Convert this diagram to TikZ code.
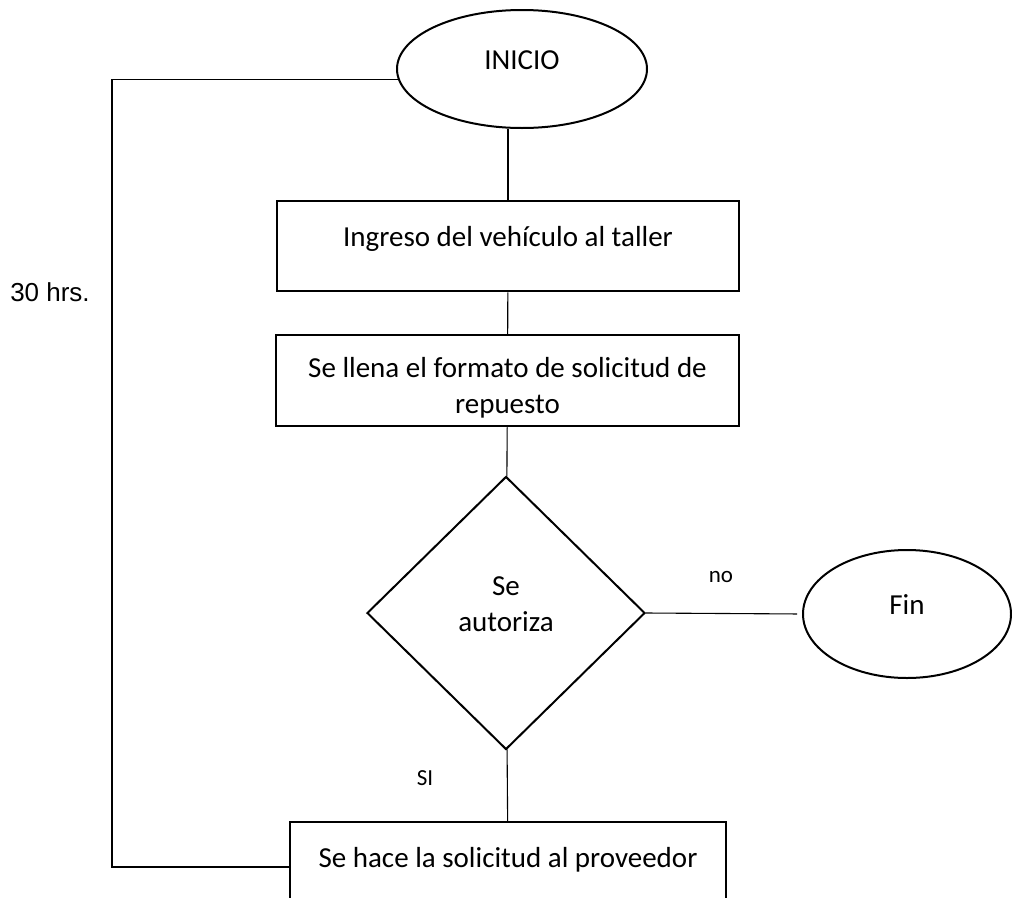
\documentclass[tikz,border=0pt]{standalone}
\usepackage{fontspec}
\setmainfont{Carlito}
\newfontfamily\arialfont{Liberation Sans}
\usetikzlibrary{shapes.geometric}
\definecolor{tinta}{HTML}{000000}

\begin{document}
\begin{tikzpicture}[x=1pt,y=-1pt,font=\fontsize{29}{36}\selectfont,
 paso/.style={draw=tinta,line width=2.5pt,rectangle,minimum width=#1,minimum height=90pt,inner sep=0pt,align=center},
 extremo/.style={draw=tinta,line width=2pt,ellipse,inner sep=0pt,text height=0pt,text depth=0pt},
 raso/.style={text height=0pt,text depth=0pt},
 linea/.style={draw=tinta,line width=1.1pt},
 etiq/.style={font=\fontsize{23}{27}\selectfont}]
 \useasboundingbox(0,0)rectangle(1012,897);
 \clip(0,0)rectangle(1012,897);
 \node[extremo,minimum width=250pt,minimum height=118pt](inicio)at(522,69){INICIO};
 \node[paso=462pt,raso](ingreso)at(508,246){Ingreso del vehículo al taller};
 \node[paso=463pt,minimum height=91pt,text height=66pt,text depth=0pt](formato)at(507.5,380.5){Se llena el formato de solicitud de\\repuesto};
 \node[draw=tinta,line width=2pt,diamond,minimum width=278pt,minimum height=273pt,inner sep=0pt,align=center,text depth=18pt](autoriza)at(506,613){Se\\autoriza};
 \node[extremo,minimum width=208pt,minimum height=128pt](fin)at(907,614){Fin};
 \node[paso=436pt,raso](solicitud)at(508,867){Se hace la solicitud al proveedor};
 \node[etiq](no)at(721,577){no};
 \node[etiq](si)at(425,778){SI};
 \node[font=\arialfont\fontsize{26}{30}\selectfont](horas)at(50,292){30 hrs.};
 \coordinate(lazo)at(112,480);
 \draw[linea](ingreso.north)--(ingreso.north|-inicio.south);
 \draw[linea](ingreso)--(formato);
 \draw[linea](formato)--(autoriza);
 \draw[linea,shorten >=5pt](autoriza.east)--(fin.west);
 \draw[linea](autoriza)--(solicitud);
 \draw[linea](inicio.185)-|(lazo)|-(solicitud.west);
\end{tikzpicture}
\end{document}
